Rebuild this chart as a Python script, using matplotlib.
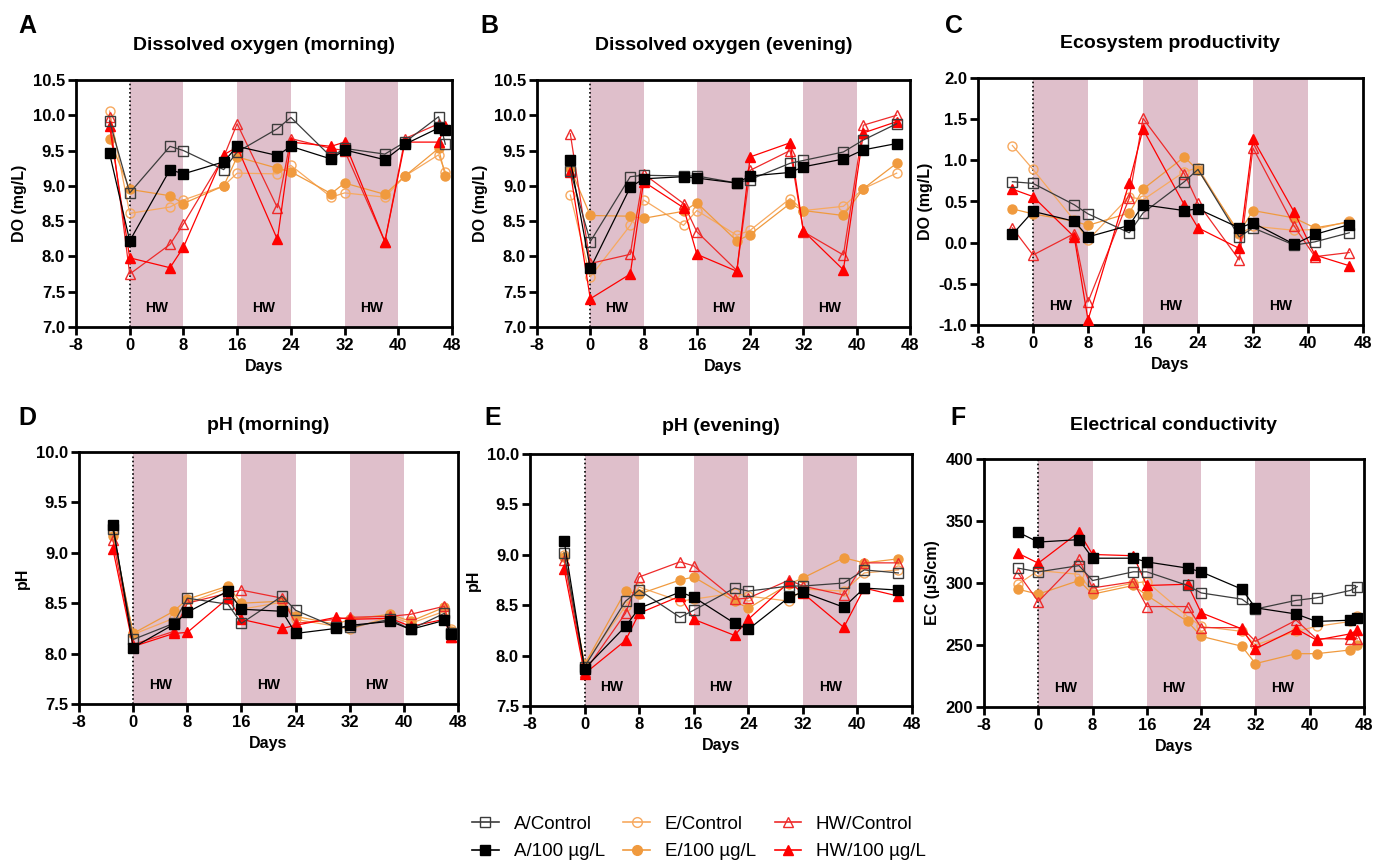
import matplotlib
matplotlib.use("Agg")
import matplotlib.pyplot as plt
import matplotlib.transforms as mtransforms
from matplotlib.lines import Line2D

plt.rcParams['font.family'] = ['Liberation Sans', 'DejaVu Sans']
plt.rcParams['axes.unicode_minus'] = False

# sampling days
days = [-3, 0, 6, 8, 14, 16, 22, 24, 30, 32, 38, 41, 46]
days47 = days + [47]

series = ['A/Control', 'A/100 µg/L', 'E/Control', 'E/100 µg/L', 'HW/Control', 'HW/100 µg/L']

# A: dissolved oxygen, morning (mg/L)
do_morning = {
    'A/Control':   [9.92, 8.90, 9.56, 9.50, 9.23, 9.48, 9.81, 9.97, 9.41, 9.53, 9.45, 9.62, 9.98, 9.59],
    'A/100 µg/L':  [9.46, 8.22, 9.23, 9.17, 9.34, 9.56, 9.43, 9.56, 9.38, 9.51, 9.37, 9.59, 9.82, 9.79],
    'E/Control':   [10.06, 8.61, 8.70, 8.80, 9.00, 9.18, 9.17, 9.29, 8.84, 8.90, 8.84, 9.14, 9.44, 9.20],
    'E/100 µg/L':  [9.66, 8.95, 8.86, 8.75, 9.00, 9.41, 9.25, 9.20, 8.89, 9.04, 8.88, 9.14, 9.53, 9.14],
    'HW/Control':  [9.98, 7.75, 8.17, 8.46, 9.41, 9.88, 8.69, 9.67, 9.53, 9.50, 8.21, 9.67, 9.88, 9.80],
    'HW/100 µg/L': [9.85, 7.98, 7.84, 8.13, 9.44, 9.55, 8.24, 9.62, 9.56, 9.62, 8.21, 9.62, 9.62, 9.85],
}

# B: dissolved oxygen, evening (mg/L)
do_evening = {
    'A/Control':   [9.21, 8.21, 9.13, 9.15, 9.14, 9.14, 9.04, 9.09, 9.32, 9.36, 9.48, 9.65, 9.88],
    'A/100 µg/L':  [9.37, 7.83, 8.98, 9.10, 9.13, 9.11, 9.04, 9.14, 9.19, 9.27, 9.38, 9.51, 9.60],
    'E/Control':   [8.87, 7.71, 8.44, 8.80, 8.44, 8.65, 8.30, 8.37, 8.82, 8.65, 8.71, 8.96, 9.18],
    'E/100 µg/L':  [9.25, 8.58, 8.57, 8.54, 8.64, 8.76, 8.22, 8.31, 8.75, 8.65, 8.58, 8.96, 9.32],
    'HW/Control':  [9.74, 7.90, 8.03, 9.17, 8.75, 8.35, 7.80, 9.22, 9.50, 8.35, 8.02, 9.86, 10.00],
    'HW/100 µg/L': [9.20, 7.40, 7.75, 9.06, 8.69, 8.03, 7.79, 9.41, 9.61, 8.36, 7.81, 9.75, 9.91],
}

# C: ecosystem productivity (mg/L)
productivity = {
    'A/Control':   [0.74, 0.72, 0.46, 0.35, 0.12, 0.36, 0.74, 0.89, 0.07, 0.18, -0.03, 0.01, 0.12],
    'A/100 µg/L':  [0.10, 0.38, 0.26, 0.07, 0.21, 0.46, 0.39, 0.41, 0.18, 0.24, -0.02, 0.10, 0.22],
    'E/Control':   [1.18, 0.89, 0.27, 0.03, 0.56, 0.52, 0.86, 0.91, 0.10, 0.20, 0.15, 0.16, 0.26],
    'E/100 µg/L':  [0.41, 0.35, 0.26, 0.21, 0.36, 0.65, 1.04, 0.88, 0.12, 0.39, 0.30, 0.18, 0.25],
    'HW/Control':  [0.18, -0.15, 0.11, -0.72, 0.54, 1.51, 0.84, 0.48, -0.21, 1.15, 0.20, -0.17, -0.12],
    'HW/100 µg/L': [0.65, 0.56, 0.07, -0.94, 0.73, 1.38, 0.46, 0.18, -0.07, 1.26, 0.37, -0.15, -0.28],
}

# D: pH, morning
ph_morning = {
    'A/Control':   [9.24, 8.14, 8.30, 8.55, 8.49, 8.30, 8.57, 8.43, 8.26, 8.26, 8.34, 8.24, 8.40, 8.20],
    'A/100 µg/L':  [9.28, 8.06, 8.29, 8.41, 8.62, 8.44, 8.42, 8.20, 8.25, 8.28, 8.32, 8.24, 8.33, 8.19],
    'E/Control':   [9.20, 8.19, 8.35, 8.50, 8.65, 8.44, 8.51, 8.34, 8.27, 8.24, 8.37, 8.30, 8.42, 8.24],
    'E/100 µg/L':  [9.17, 8.20, 8.42, 8.54, 8.67, 8.50, 8.52, 8.37, 8.29, 8.34, 8.39, 8.32, 8.46, 8.22],
    'HW/Control':  [9.13, 8.09, 8.22, 8.50, 8.60, 8.63, 8.55, 8.30, 8.34, 8.36, 8.37, 8.39, 8.47, 8.16],
    'HW/100 µg/L': [9.04, 8.07, 8.20, 8.21, 8.55, 8.34, 8.25, 8.28, 8.36, 8.34, 8.35, 8.27, 8.34, 8.16],
}

# E: pH, evening
ph_evening = {
    'A/Control':   [9.02, 7.89, 8.54, 8.65, 8.38, 8.45, 8.67, 8.64, 8.69, 8.69, 8.72, 8.85, 8.82],
    'A/100 µg/L':  [9.14, 7.87, 8.29, 8.47, 8.63, 8.58, 8.32, 8.26, 8.58, 8.63, 8.48, 8.67, 8.65],
    'E/Control':   [9.00, 7.92, 8.49, 8.68, 8.54, 8.56, 8.62, 8.59, 8.54, 8.66, 8.64, 8.82, 8.85],
    'E/100 µg/L':  [8.98, 7.91, 8.64, 8.61, 8.75, 8.78, 8.54, 8.47, 8.71, 8.77, 8.97, 8.92, 8.96],
    'HW/Control':  [8.95, 7.84, 8.42, 8.78, 8.93, 8.89, 8.56, 8.57, 8.75, 8.69, 8.60, 8.92, 8.92],
    'HW/100 µg/L': [8.86, 7.82, 8.15, 8.42, 8.59, 8.36, 8.20, 8.36, 8.73, 8.62, 8.28, 8.67, 8.59],
}

# F: electrical conductivity (µS/cm)
conductivity = {
    'A/Control':   [312, 309, 314, 302, 309, 309, 298, 292, 287, 279, 286, 288, 294, 297],
    'A/100 µg/L':  [341, 333, 335, 320, 320, 317, 312, 309, 295, 280, 275, 269, 270, 272],
    'E/Control':   [299, 310, 307, 293, 300, 301, 273, 265, 261, 250, 261, 265, 269, 273],
    'E/100 µg/L':  [295, 291, 302, 291, 298, 290, 269, 257, 249, 235, 243, 243, 246, 250],
    'HW/Control':  [308, 285, 319, 296, 301, 281, 281, 264, 264, 253, 270, 255, 255, 255],
    'HW/100 µg/L': [324, 316, 341, 323, 322, 298, 299, 276, 263, 247, 263, 254, 259, 262],
}

heatwaves = [(0, 8), (16, 24), (32, 40)]

styles = {
    'A/Control':   dict(color='#3c3c3c', marker='s', mfc='none'),
    'A/100 µg/L':  dict(color='black', marker='s', mfc='black'),
    'E/Control':   dict(color='#f7a95f', marker='o', mfc='none'),
    'E/100 µg/L':  dict(color='#f09a3e', marker='o', mfc='#f09a3e'),
    'HW/Control':  dict(color='#ee2a2a', marker='^', mfc='none'),
    'HW/100 µg/L': dict(color='#ff0000', marker='^', mfc='#ff0000'),
}
draw_order = ['E/Control', 'E/100 µg/L', 'HW/Control', 'HW/100 µg/L', 'A/Control', 'A/100 µg/L']

W, H = 1386, 867
fig = plt.figure(figsize=(W / 100, H / 100), dpi=100)

# (letter, title, ylabel, data, x days, ylim, yticks, fmt,
#  axes box in px: left, right, top, bottom, letter x, row y for letter/title)
panels = [
    ('A', 'Dissolved oxygen (morning)', 'DO (mg/L)', do_morning, days47,
     (7.0, 10.5), [7.0, 7.5, 8.0, 8.5, 9.0, 9.5, 10.0, 10.5], '%.1f', (76, 452, 80, 327), 18, (26, 46)),
    ('B', 'Dissolved oxygen (evening)', 'DO (mg/L)', do_evening, days,
     (7.0, 10.5), [7.0, 7.5, 8.0, 8.5, 9.0, 9.5, 10.0, 10.5], '%.1f', (537, 910, 80, 327), 480, (26, 46)),
    ('C', 'Ecosystem productivity', 'DO (mg/L)', productivity, days,
     (-1.0, 2.0), [-1.0, -0.5, 0.0, 0.5, 1.0, 1.5, 2.0], '%.1f', (978, 1363, 78, 325), 945, (26, 44)),
    ('D', 'pH (morning)', 'pH', ph_morning, days47,
     (7.5, 10.0), [7.5, 8.0, 8.5, 9.0, 9.5, 10.0], '%.1f', (79, 458, 452, 704), 18, (418, 425)),
    ('E', 'pH (evening)', 'pH', ph_evening, days,
     (7.5, 10.0), [7.5, 8.0, 8.5, 9.0, 9.5, 10.0], '%.1f', (530, 912, 454, 706), 484, (418, 427)),
    ('F', 'Electrical conductivity', 'EC (µS/cm)', conductivity, days47,
     (200, 400), [200, 250, 300, 350, 400], '%d', (984, 1364, 459, 707), 950, (418, 425)),
]

for letter, title, ylabel, data, x, ylim, yticks, fmt, box, letter_x, row_y in panels:
    l, r, t, b = box
    ax = fig.add_axes([l / W, 1 - b / H, (r - l) / W, (b - t) / H])
    for start, end in heatwaves:
        ax.axvspan(start, end, color='#dfbfcb', lw=0, zorder=0)
    ax.axvline(0, color='black', ls=(0, (1, 1.5)), lw=1.2, zorder=1)
    trans = mtransforms.blended_transform_factory(ax.transData, ax.transAxes)
    for start, end in heatwaves:
        ax.text((start + end) / 2, 0.075, 'HW', transform=trans, ha='center', va='center',
                fontsize=10, fontweight='bold')
    for name in draw_order:
        st = styles[name]
        ax.plot(x, data[name], color=st['color'], marker=st['marker'], mfc=st['mfc'],
                mec=st['color'], ms=6.5, mew=1.0, lw=0.9, zorder=3)
    ax.set_xlim(-8, 48)
    ax.set_ylim(*ylim)
    ax.set_xticks(range(-8, 49, 8))
    ax.set_yticks(yticks)
    ax.set_yticklabels([fmt % v for v in yticks])
    for sp in ax.spines.values():
        sp.set_linewidth(2.0)
    ax.tick_params(direction='out', length=6, width=2.0, labelsize=12, pad=2)
    for lab in ax.get_xticklabels() + ax.get_yticklabels():
        lab.set_fontweight('bold')
    ax.set_xlabel('Days', fontsize=11.5, fontweight='bold', labelpad=4)
    ax.set_ylabel(ylabel, fontsize=11.5, fontweight='bold', labelpad=4)
    fig.text((l + r) / 2 / W, 1 - row_y[1] / H, title, fontsize=14, fontweight='bold',
             ha='center', va='center')
    fig.text(letter_x / W, 1 - row_y[0] / H, letter, fontsize=18, fontweight='bold',
             ha='left', va='center')

handles = []
for name in series:
    st = styles[name]
    handles.append(Line2D([], [], color=st['color'], marker=st['marker'], mfc=st['mfc'],
                          mec=st['color'], ms=7, lw=1.2))
fig.legend(handles, series, loc='center', bbox_to_anchor=(699 / W, 1 - 838 / H), ncol=3,
           frameon=False, fontsize=13.5, handlelength=1.4, columnspacing=1.0,
           handletextpad=0.8, labelspacing=0.55)

fig.savefig('out.png', dpi=100)
